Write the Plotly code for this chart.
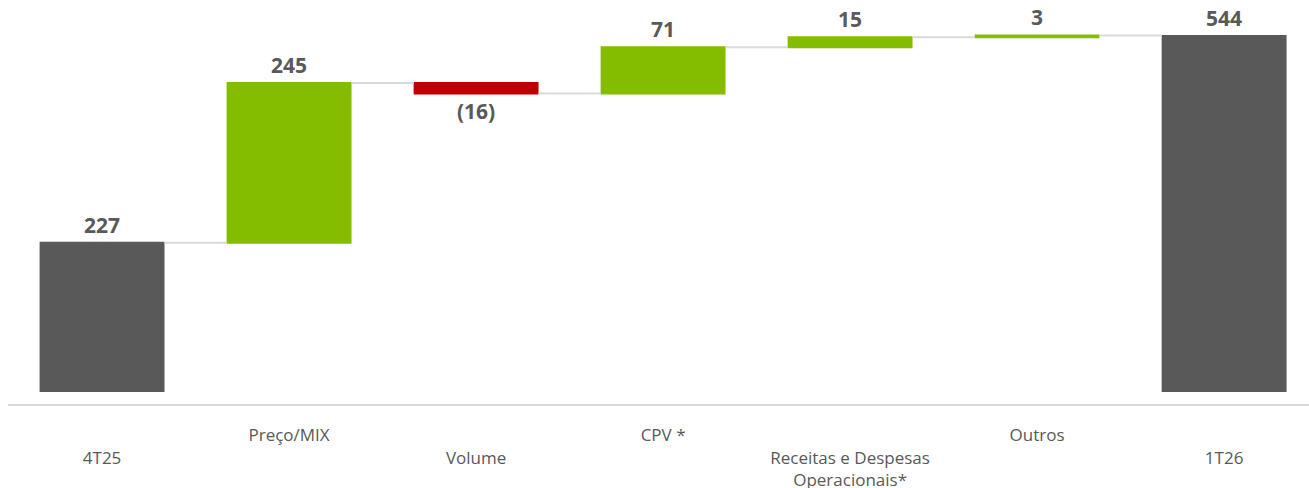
import plotly.graph_objects as go

categories = ["4T25", "Preço/MIX", "Volume", "CPV *", "Receitas e Despesas<br>Operacionais*", "Outros", "1T26"]
tick_labels = ["\u00a0<br>4T25", "Preço/MIX", "\u00a0<br>Volume", "CPV *",
               "\u00a0<br>Receitas e Despesas<br>Operacionais*", "Outros", "\u00a0<br>1T26"]
values = [227, 245, -16, 71, 15, 3, 544]
measures = ["absolute", "relative", "relative", "relative", "relative", "relative", "absolute"]
labels = [f"({abs(v)})" if v < 0 else f"{v}" for v in values]

x_idx = list(range(len(categories)))

fig = go.Figure(go.Waterfall(
    x=x_idx,
    y=values,
    measure=measures,
    text=labels,
    textposition="outside",
    textfont=dict(family="Open Sans, Noto Sans, sans-serif", size=21, color="#595959", weight="bold"),
    cliponaxis=False,
    width=0.668,
    increasing=dict(marker=dict(color="#84BD00")),
    decreasing=dict(marker=dict(color="#C00000")),
    totals=dict(marker=dict(color="#595959")),
    connector=dict(mode="between", line=dict(color="#D9D9D9", width=2)),
))

fig.update_layout(
    width=1309, height=488,
    margin=dict(l=8, r=0, t=8, b=84, autoexpand=False),
    paper_bgcolor="white", plot_bgcolor="white",
    showlegend=False,
    font=dict(family="Open Sans, Noto Sans, sans-serif", color="#595959"),
    xaxis=dict(
        range=[-0.503, 6.454],
        automargin=False,
        tickmode="array", tickvals=x_idx, ticktext=tick_labels,
        tickfont=dict(size=17, color="#595959"),
        showline=True, linecolor="#D9D9D9", linewidth=2,
        ticks="outside", ticklen=15, tickcolor="rgba(0,0,0,0)",
        showgrid=False, zeroline=False,
    ),
    yaxis=dict(range=[-20, 587], visible=False, showgrid=False, zeroline=False, automargin=False),
)

fig.write_html("out.html", config={"displayModeBar": False},
               post_script="document.body.style.margin='0';")
